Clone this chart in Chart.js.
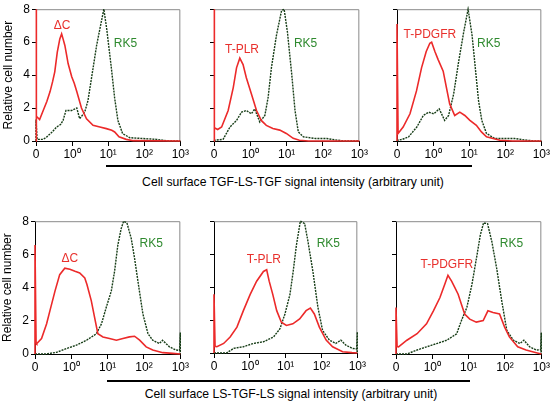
<!DOCTYPE html>
<html><head><meta charset="utf-8">
<script src="https://cdn.jsdelivr.net/npm/chart.js@4/dist/chart.umd.min.js"></script>
<style>
html,body{margin:0;padding:0;background:#fff;}
#wrap{position:relative;width:555px;height:405px;overflow:hidden;font-family:"Liberation Sans",Arial,sans-serif;}
#wrap canvas{position:absolute;}
.rule{position:absolute;height:2px;background:#000;}
.xt{position:absolute;font-size:12.2px;color:#000;white-space:nowrap;transform:translate(-50%,-50%);}
</style></head>
<body>
<div id="wrap">
  <div class="rule" style="left:106px;top:165px;width:366px;"></div>
  <div class="xt" id="xtTop" style="left:293px;top:182px;"></div>
  <div class="rule" style="left:107px;top:380px;width:363px;"></div>
  <div class="xt" id="xtBot" style="left:291px;top:394px;"></div>
</div>
<script>
// x in decades: 0 -> "0", 1 -> 10^0, 2 -> 10^1, 3 -> 10^2, 4 -> 10^3
const xTickLabels = ['0', '10\u2070', '10\u00B9', '10\u00B2', '10\u00B3'];
const yTickValues = [0, 2, 4, 6, 8];
const panelNames = ['\u0394C', 'T-PLR', 'T-PDGFR', '\u0394C', 'T-PLR', 'T-PDGFR'];
const controlName = 'RK5';
const xTitleTop = 'Cell surface TGF-LS-TGF signal intensity (arbitrary unit)';
const xTitleBottom = 'Cell surface LS-TGF-LS signal intensity (arbitrary unit)';

// Top row (TGF-LS-TGF)
const topDeltaC = [[0,0],[0,8],[0.02,1.5],[0.1,1.3],[0.2,1.85],[0.3,2.4],[0.39,3.0],[0.46,3.6],[0.52,4.2],[0.59,5.4],[0.66,6.2],[0.71,6.5],[0.75,6.2],[0.8,5.8],[0.85,5.2],[0.89,4.7],[0.99,3.9],[1.06,3.5],[1.13,3.0],[1.26,2.0],[1.4,1.35],[1.58,0.95],[1.77,0.85],[1.95,0.75],[2.1,0.65],[2.18,0.55],[2.3,0.25],[2.5,0.1],[2.7,0.02],[4,0]];
const topRK5a = [[0,0],[0,1.3],[0.03,0.1],[0.2,0.1],[0.3,0.25],[0.45,0.55],[0.57,0.85],[0.68,1.0],[0.75,1.25],[0.83,1.85],[0.99,1.85],[1.13,2.0],[1.21,1.35],[1.35,1.75],[1.44,2.45],[1.58,4.4],[1.68,5.8],[1.77,6.8],[1.88,8.0],[1.96,6.8],[2.09,4.4],[2.18,2.6],[2.27,1.25],[2.4,0.45],[2.6,0.2],[2.96,0.15],[3.34,0.1],[3.5,0.05],[3.7,0],[4,0]];
const topTPLR = [[0,0],[0,8],[0.02,0.8],[0.1,0.7],[0.21,0.85],[0.39,1.85],[0.53,3.24],[0.62,4.44],[0.71,5.03],[0.8,4.64],[0.89,3.84],[1.03,2.85],[1.17,1.85],[1.3,1.25],[1.44,0.95],[1.62,0.76],[1.81,0.66],[1.99,0.46],[2.18,0.16],[2.35,0.05],[2.6,0],[4,0]];
const topRK5b = [[0,0],[0.03,0.05],[0.25,0.1],[0.44,0.85],[0.62,1.25],[0.76,1.75],[0.89,1.85],[1.03,1.65],[1.12,1.95],[1.26,1.15],[1.4,1.55],[1.49,2.65],[1.58,4.44],[1.72,6.43],[1.86,7.92],[1.93,8.0],[2.02,6.63],[2.14,4.04],[2.23,1.85],[2.32,0.55],[2.46,0.25],[2.8,0.15],[3.1,0.15],[3.4,0.05],[3.6,0],[4,0]];
const topTPDGFR = [[0,0],[0,7.1],[0.03,0.46],[0.17,0.85],[0.36,1.65],[0.54,3.04],[0.68,4.44],[0.81,5.43],[0.91,5.93],[0.96,6.0],[1.05,5.43],[1.14,4.94],[1.28,4.24],[1.37,3.24],[1.46,2.25],[1.6,1.55],[1.74,1.75],[1.88,1.55],[2.02,1.25],[2.2,0.95],[2.34,0.55],[2.48,0.25],[2.85,0.05],[3.2,0],[4,0]];
const topRK5c = [[0,0],[0.03,0.05],[0.15,0.1],[0.32,0.25],[0.55,0.85],[0.73,1.55],[0.88,1.75],[1.02,1.65],[1.17,1.95],[1.32,1.25],[1.43,1.55],[1.57,2.85],[1.71,4.84],[1.85,6.63],[1.97,8.0],[2.08,6.43],[2.17,4.44],[2.26,2.45],[2.35,1.25],[2.48,0.46],[2.71,0.15],[3.26,0.15],[3.6,0.05],[3.8,0],[4,0]];

// Bottom row (LS-TGF-LS)
const botDeltaC = [[0,0],[0,6.56],[0.03,0.7],[0.05,0.63],[0.18,0.93],[0.32,1.82],[0.41,2.6],[0.55,3.79],[0.68,4.78],[0.82,5.17],[0.96,5.1],[1.1,4.98],[1.23,4.88],[1.37,4.58],[1.43,4.19],[1.55,3.2],[1.64,2.21],[1.73,1.22],[1.87,1.03],[2.05,0.93],[2.24,0.83],[2.42,0.93],[2.6,1.03],[2.74,1.07],[2.88,0.83],[3.06,0.43],[3.24,0.24],[3.52,0.08],[3.79,0.04],[4,0]];
const botRK5a = [[0,0],[0.3,0],[0.59,0.1],[0.87,0.33],[1.14,0.53],[1.42,0.83],[1.69,1.22],[1.83,1.82],[1.96,2.8],[2.1,3.79],[2.19,4.98],[2.28,6.56],[2.37,7.54],[2.44,8.0],[2.53,7.9],[2.65,6.95],[2.74,5.77],[2.86,3.99],[2.97,2.41],[3.11,1.22],[3.24,0.83],[3.42,0.63],[3.51,0.83],[3.7,0.43],[3.88,0.24],[3.98,0.22],[4,1.3],[4,0]];
const botTPLR = [[0,0],[0,3.56],[0.03,0.4],[0.08,0.38],[0.27,0.58],[0.45,0.97],[0.64,1.57],[0.82,2.57],[1.01,3.56],[1.19,4.36],[1.38,4.95],[1.47,5.05],[1.54,4.36],[1.64,3.56],[1.75,2.57],[1.88,1.87],[2.02,1.67],[2.2,1.77],[2.39,2.07],[2.57,2.57],[2.69,2.73],[2.8,2.37],[2.94,1.57],[3.13,0.78],[3.31,0.38],[3.59,0.08],[3.85,0.02],[4,0]];
const botRK5b = [[0,0],[0.35,0],[0.55,0.28],[0.82,0.38],[1.1,0.58],[1.38,0.68],[1.66,0.97],[1.84,1.47],[1.98,2.37],[2.12,3.56],[2.21,4.95],[2.3,6.55],[2.41,8.0],[2.53,7.85],[2.62,6.8],[2.76,4.95],[2.9,2.77],[3.03,1.37],[3.22,0.78],[3.4,0.58],[3.54,0.78],[3.68,0.48],[3.86,0.28],[3.98,0.25],[4,1.27],[4,0]];
const botTPDGFR = [[0,0],[0,2.8],[0.03,0.45],[0.07,0.43],[0.3,0.83],[0.58,1.22],[0.84,1.82],[1.03,2.6],[1.21,3.4],[1.34,4.19],[1.43,4.74],[1.53,4.39],[1.62,4.0],[1.71,3.6],[1.8,3.0],[1.89,2.41],[2.03,2.1],[2.21,1.92],[2.4,2.01],[2.53,2.6],[2.67,2.5],[2.85,2.41],[2.99,1.62],[3.12,1.03],[3.35,0.43],[3.58,0.24],[3.86,0.08],[4,0]];
const botRK5c = [[0,0],[0.3,0],[0.58,0.24],[0.84,0.43],[1.12,0.63],[1.4,0.83],[1.67,1.22],[1.8,2.01],[1.95,2.8],[2.09,4.19],[2.23,5.97],[2.32,7.16],[2.41,7.9],[2.52,7.85],[2.64,6.75],[2.77,5.17],[2.91,3.2],[3.05,1.42],[3.23,0.83],[3.41,0.63],[3.52,0.83],[3.68,0.43],[3.86,0.24],[3.98,0.25],[4,1.3],[4,0]];

document.getElementById('xtTop').textContent = xTitleTop;
document.getElementById('xtBot').textContent = xTitleBottom;

const FONT = '"Liberation Sans", Arial, sans-serif';
const RED = '#ec2a2a';
const GREEN_LINE = '#173d17';
const GREEN_TEXT = '#2f8a2f';
const RED_TEXT = '#e8302c';

const panels = [
  {plot:[36,7,145,134],   red:topDeltaC, green:topRK5a, name:0, showY:true,  lab:[0.72,6.98], rk:[2.48,5.9]},
  {plot:[214,7,146,134],  red:topTPLR,   green:topRK5b, name:1, showY:false, lab:[0.77,5.55], rk:[2.52,5.9]},
  {plot:[397,7,145,134],  red:topTPDGFR, green:topRK5c, name:2, showY:false, lab:[0.91,6.45], rk:[2.54,5.9]},
  {plot:[35,219,146,135], red:botDeltaC, green:botRK5a, name:3, showY:true,  lab:[0.96,5.75], rk:[3.2,6.64]},
  {plot:[214,219,144,134],red:botTPLR,   green:botRK5b, name:4, showY:false, lab:[1.39,5.67], rk:[3.19,6.63]},
  {plot:[396,219,146,135],red:botTPDGFR, green:botRK5c, name:5, showY:false, lab:[1.4,5.39],  rk:[3.18,6.64]}
];

const framePlugin = {
  id: 'frame',
  beforeDatasetsDraw(chart) {
    const a = chart.chartArea, ctx = chart.ctx;
    ctx.save();
    ctx.strokeStyle = '#8a8a8a';
    ctx.lineWidth = 1;
    ctx.beginPath();
    ctx.moveTo(a.left, a.top + 0.5);
    ctx.lineTo(a.right - 0.5, a.top + 0.5);
    ctx.lineTo(a.right - 0.5, a.bottom);
    ctx.stroke();
    ctx.restore();
  }
};
const textPlugin = {
  id: 'panelText',
  afterDatasetsDraw(chart, args, opts) {
    const ctx = chart.ctx, xs = chart.scales.x, ys = chart.scales.y;
    (opts.items || []).forEach(it => {
      ctx.save();
      ctx.font = '12px ' + FONT;
      ctx.fillStyle = it.color;
      ctx.textAlign = 'center';
      ctx.textBaseline = 'middle';
      ctx.fillText(it.text, xs.getPixelForValue(it.x), ys.getPixelForValue(it.y));
      ctx.restore();
    });
  }
};

const toXY = arr => arr.map(p => ({x: p[0], y: p[1]}));
const wrap = document.getElementById('wrap');

panels.forEach(p => {
  const [L, T, W, H] = p.plot;
  const cv = document.createElement('canvas');
  const cw = W + 36 + 9, ch = H + 7 + 24;
  cv.width = cw; cv.height = ch;
  cv.style.left = (L - 36) + 'px';
  cv.style.top = (T - 7) + 'px';
  cv.style.width = cw + 'px'; cv.style.height = ch + 'px';
  wrap.appendChild(cv);
  new Chart(cv.getContext('2d'), {
    type: 'scatter',
    data: {
      datasets: [
        {label: panelNames[p.name], data: toXY(p.red), showLine: true, borderColor: RED, borderWidth: 1.6, pointRadius: 0, tension: 0, clip: 3},
        {label: controlName, data: toXY(p.green), showLine: true, borderColor: GREEN_LINE, borderWidth: 1.4, borderDash: [2, 1], pointRadius: 0, tension: 0, clip: 3}
      ]
    },
    options: {
      responsive: false, animation: false, devicePixelRatio: 1,
      layout: {padding: {left: 0, right: 9, top: 7, bottom: 0}},
      plugins: {
        legend: {display: false}, tooltip: {enabled: false},
        panelText: {items: [
          {text: panelNames[p.name], x: p.lab[0], y: p.lab[1], color: RED_TEXT},
          {text: controlName, x: p.rk[0], y: p.rk[1], color: GREEN_TEXT}
        ]}
      },
      scales: {
        x: {
          type: 'linear', min: 0, max: 4,
          afterBuildTicks: s => { s.ticks = xTickLabels.map((t, i) => ({value: i})); },
          ticks: {callback: v => xTickLabels[v], font: {size: 12, family: FONT}, color: '#000', padding: 1, maxRotation: 0, autoSkip: false},
          grid: {drawOnChartArea: false, drawTicks: true, tickLength: 5, color: '#000'},
          border: {color: '#000', width: 1},
          afterFit: s => { s.height = 24; }
        },
        y: {
          min: 0, max: 8,
          afterBuildTicks: s => { s.ticks = yTickValues.map(v => ({value: v})); },
          ticks: {font: {size: 12, family: FONT}, color: p.showY ? '#000' : 'rgba(0,0,0,0)', padding: 2},
          grid: {drawOnChartArea: false, drawTicks: true, tickLength: 4, color: '#000'},
          border: {color: '#000', width: 1},
          title: {display: p.showY, text: 'Relative cell number', font: {size: 12, family: FONT}, color: '#000', padding: {top: 1, bottom: 0}},
          afterFit: s => { s.width = 36; }
        }
      }
    },
    plugins: [framePlugin, textPlugin]
  });
});
</script>
</body></html>
